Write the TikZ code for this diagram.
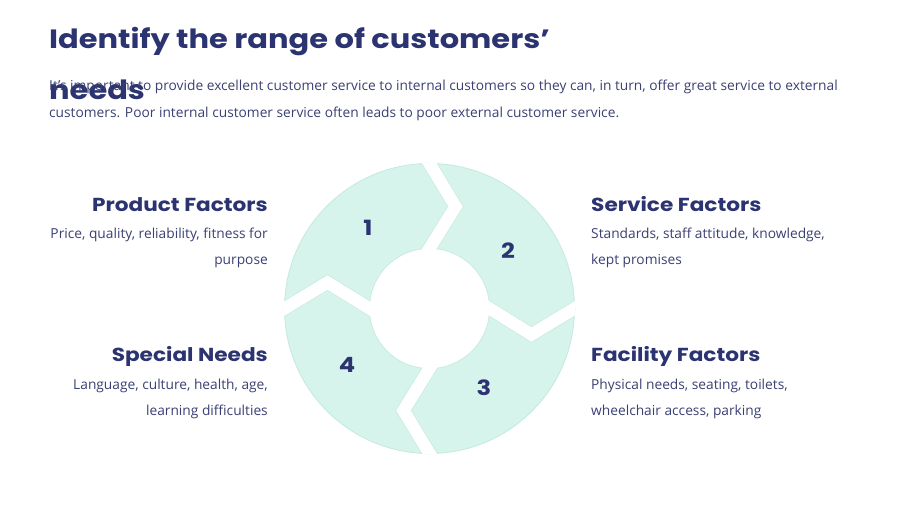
\documentclass[tikz,border=0pt]{standalone}
\usepackage{fontspec}
\setmainfont{Open Sans}
\newfontfamily\headfont{Poppins}[FakeStretch=1.15]
\usetikzlibrary{calc}
\definecolor{navy}{HTML}{2B3370}
\definecolor{bodytxt}{HTML}{3B4073}
\definecolor{mint}{HTML}{D6F4EC}
\definecolor{mintline}{HTML}{C4E9DF}
\begin{document}
\begin{tikzpicture}[x=1pt,y=1pt,
  titletxt/.style={anchor=base west,inner sep=0pt,text=navy,font=\headfont\bfseries\fontsize{26.5}{30}\selectfont},
  bodyline/.style={inner sep=0pt,text=bodytxt,font=\fontsize{13.75}{17}\selectfont},
  headtxt/.style={inner sep=0pt,text=navy,font=\headfont\bfseries\fontsize{18.8}{21}\selectfont},
  numtxt/.style={inner sep=0pt,text=navy,font=\headfont\bfseries\fontsize{21}{24}\selectfont},
  gapedge/.style={draw=mintline,line width=13.6pt,line join=miter},
  gapfill/.style={draw=white,line width=12.4pt,line join=miter}]
\fill[white] (0,0) rectangle (900,506);
\useasboundingbox (0,0) rectangle (900,506);
% title and intro
\node[titletxt] (t1) at (49,457) {Identify the range of customers’};
\node[titletxt] (t2) at (49,406) {needs};
\node[bodyline,anchor=base west] (b1) at (49,415) {It’s important to provide excellent customer service to internal customers so they can, in turn, offer great service to external};
\node[bodyline,anchor=base west] (b2) at (49,388) {customers. Poor internal customer service often leads to poor external customer service.};
% cycle
\coordinate (C) at (429.5,197.5);
\fill[mint,draw=mintline,line width=0.8pt] (C) circle (145pt);
\draw[mintline,line width=0.8pt] (C) circle (60pt);
\begin{scope}
\clip (C) circle (145.6pt);
\foreach \t in {90,0,-90,180}{
  \coordinate (O) at ($(C)+(\t:145)$);
  \coordinate (A) at ($(C)+(\t:102)+(\t-90:26)$);
  \coordinate (I) at ($(C)+(\t:60)$);
  \draw[gapedge] ($(A)!1.6!(O)$) -- (A) -- ($(A)!1.3!(I)$);
  \draw[gapfill] ($(A)!1.6!(O)$) -- (A) -- ($(A)!1.3!(I)$);
}
\end{scope}
\fill[white] (C) circle (59.6pt);
\node[numtxt] (n1) at (368,278) {1};
\node[numtxt] (n2) at (508,255) {2};
\node[numtxt] (n3) at (484,118) {3};
\node[numtxt] (n4) at (347,141) {4};
% left texts
\node[headtxt,anchor=base east] (h1) at (268,294) {Product Factors};
\node[bodyline,anchor=base east] (p1) at (268,267) {Price, quality, reliability, fitness for};
\node[bodyline,anchor=base east] (p2) at (268,241) {purpose};
\node[headtxt,anchor=base east] (h4) at (268,144) {Special Needs};
\node[bodyline,anchor=base east] (s1) at (268,116) {Language, culture, health, age,};
\node[bodyline,anchor=base east] (s2) at (268,90) {learning difficulties};
% right texts
\node[headtxt,anchor=base west] (h2) at (591,294) {Service Factors};
\node[bodyline,anchor=base west] (q1) at (591,267) {Standards, staff attitude, knowledge,};
\node[bodyline,anchor=base west] (q2) at (591,241) {kept promises};
\node[headtxt,anchor=base west] (h3) at (591,144) {Facility Factors};
\node[bodyline,anchor=base west] (f1) at (591,116) {Physical needs, seating, toilets,};
\node[bodyline,anchor=base west] (f2) at (591,90) {wheelchair access, parking};
\end{tikzpicture}
\end{document}
